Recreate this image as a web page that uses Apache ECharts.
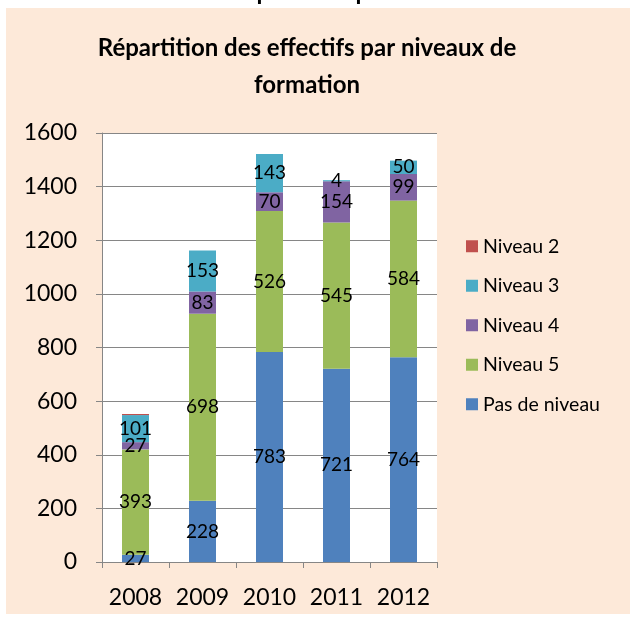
<!DOCTYPE html>
<html>
<head>
<meta charset="utf-8">
<script src="https://cdn.jsdelivr.net/npm/echarts@6/dist/echarts.min.js"></script>
<style>
    html, body { margin: 0; padding: 0; background: #fff; }
    #chart { width: 636px; height: 623px; }
</style>
</head>
<body>
<div id="chart"></div>
<script>
    // données
    var years = ['2008', '2009', '2010', '2011', '2012'];
    var pasDeNiveau = [27, 228, 783, 721, 764];
    var niveau5 = [393, 698, 526, 545, 584];
    var niveau4 = [27, 83, 70, 154, 99];
    var niveau3 = [101, 153, 143, 4, 50];
    var niveau2 = [4, 0, 0, 0, 0];
    var yTicks = [0, 1600, 200];

    var FONT = 'Lato, "Open Sans", sans-serif';
    var chart = echarts.init(document.getElementById('chart'));

    function serie(name, data, color, showLabel) {
        return {
            name: name,
            type: 'bar',
            stack: 'total',
            data: data,
            barWidth: 27,
            itemStyle: { color: color },
            label: {
                show: showLabel,
                position: 'inside',
                color: '#000',
                fontSize: 19,
                fontFamily: FONT
            }
        };
    }

    var option = {
        animation: false,
        graphic: [
            {
                type: 'text', z: -20,
                style: {
                    x: 360, y: 4, text: 'Tableau 3 : Répartition par niveau de formation',
                    textAlign: 'center', textVerticalAlign: 'bottom',
                    font: 'bold 24px ' + FONT, fill: '#000'
                }
            },
            {
                type: 'rect', z: -10,
                shape: { x: 6, y: 8, width: 624, height: 606 },
                style: { fill: '#FDE9D9' }
            },
            {
                type: 'text', z: 5,
                style: {
                    x: 307, y: 30, text: 'Répartition des effectifs par niveaux de\nformation',
                    textAlign: 'center', lineHeight: 37,
                    font: 'bold 24px ' + FONT, fill: '#000'
                }
            }
        ],
        legend: {
            orient: 'vertical',
            left: 466,
            top: 236,
            padding: 0,
            itemWidth: 12,
            itemHeight: 12,
            itemGap: 19,
            icon: 'rect',
            textStyle: { fontSize: 19.5, fontFamily: FONT, color: '#000', lineHeight: 20.5 },
            data: ['Niveau 2', 'Niveau 3', 'Niveau 4', 'Niveau 5', 'Pas de niveau']
        },
        grid: {
            left: 102, top: 133, width: 335, height: 429,
            show: true, backgroundColor: '#fff', borderWidth: 0
        },
        xAxis: {
            type: 'category',
            data: years,
            axisLine: { lineStyle: { color: '#868686' } },
            axisTick: { show: true, length: 6, lineStyle: { color: '#868686' } },
            axisLabel: {
                fontSize: 23, fontFamily: FONT, color: '#000', margin: 24,
                interval: 0, hideOverlap: false
            }
        },
        yAxis: {
            type: 'value',
            min: yTicks[0],
            max: yTicks[1],
            interval: yTicks[2],
            axisLine: { show: true, lineStyle: { color: '#868686' } },
            axisTick: { show: true, length: 6, lineStyle: { color: '#868686' } },
            splitLine: { lineStyle: { color: '#868686' } },
            axisLabel: {
                fontSize: 23, fontFamily: FONT, color: '#000', margin: 25,
                formatter: function (v) { return String(v); }
            }
        },
        series: [
            serie('Pas de niveau', pasDeNiveau, '#4F81BD', true),
            serie('Niveau 5', niveau5, '#9BBB59', true),
            serie('Niveau 4', niveau4, '#8064A2', true),
            serie('Niveau 3', niveau3, '#4BACC6', true),
            serie('Niveau 2', niveau2, '#C0504D', false)
        ]
    };

    chart.setOption(option);
</script>
</body>
</html>
